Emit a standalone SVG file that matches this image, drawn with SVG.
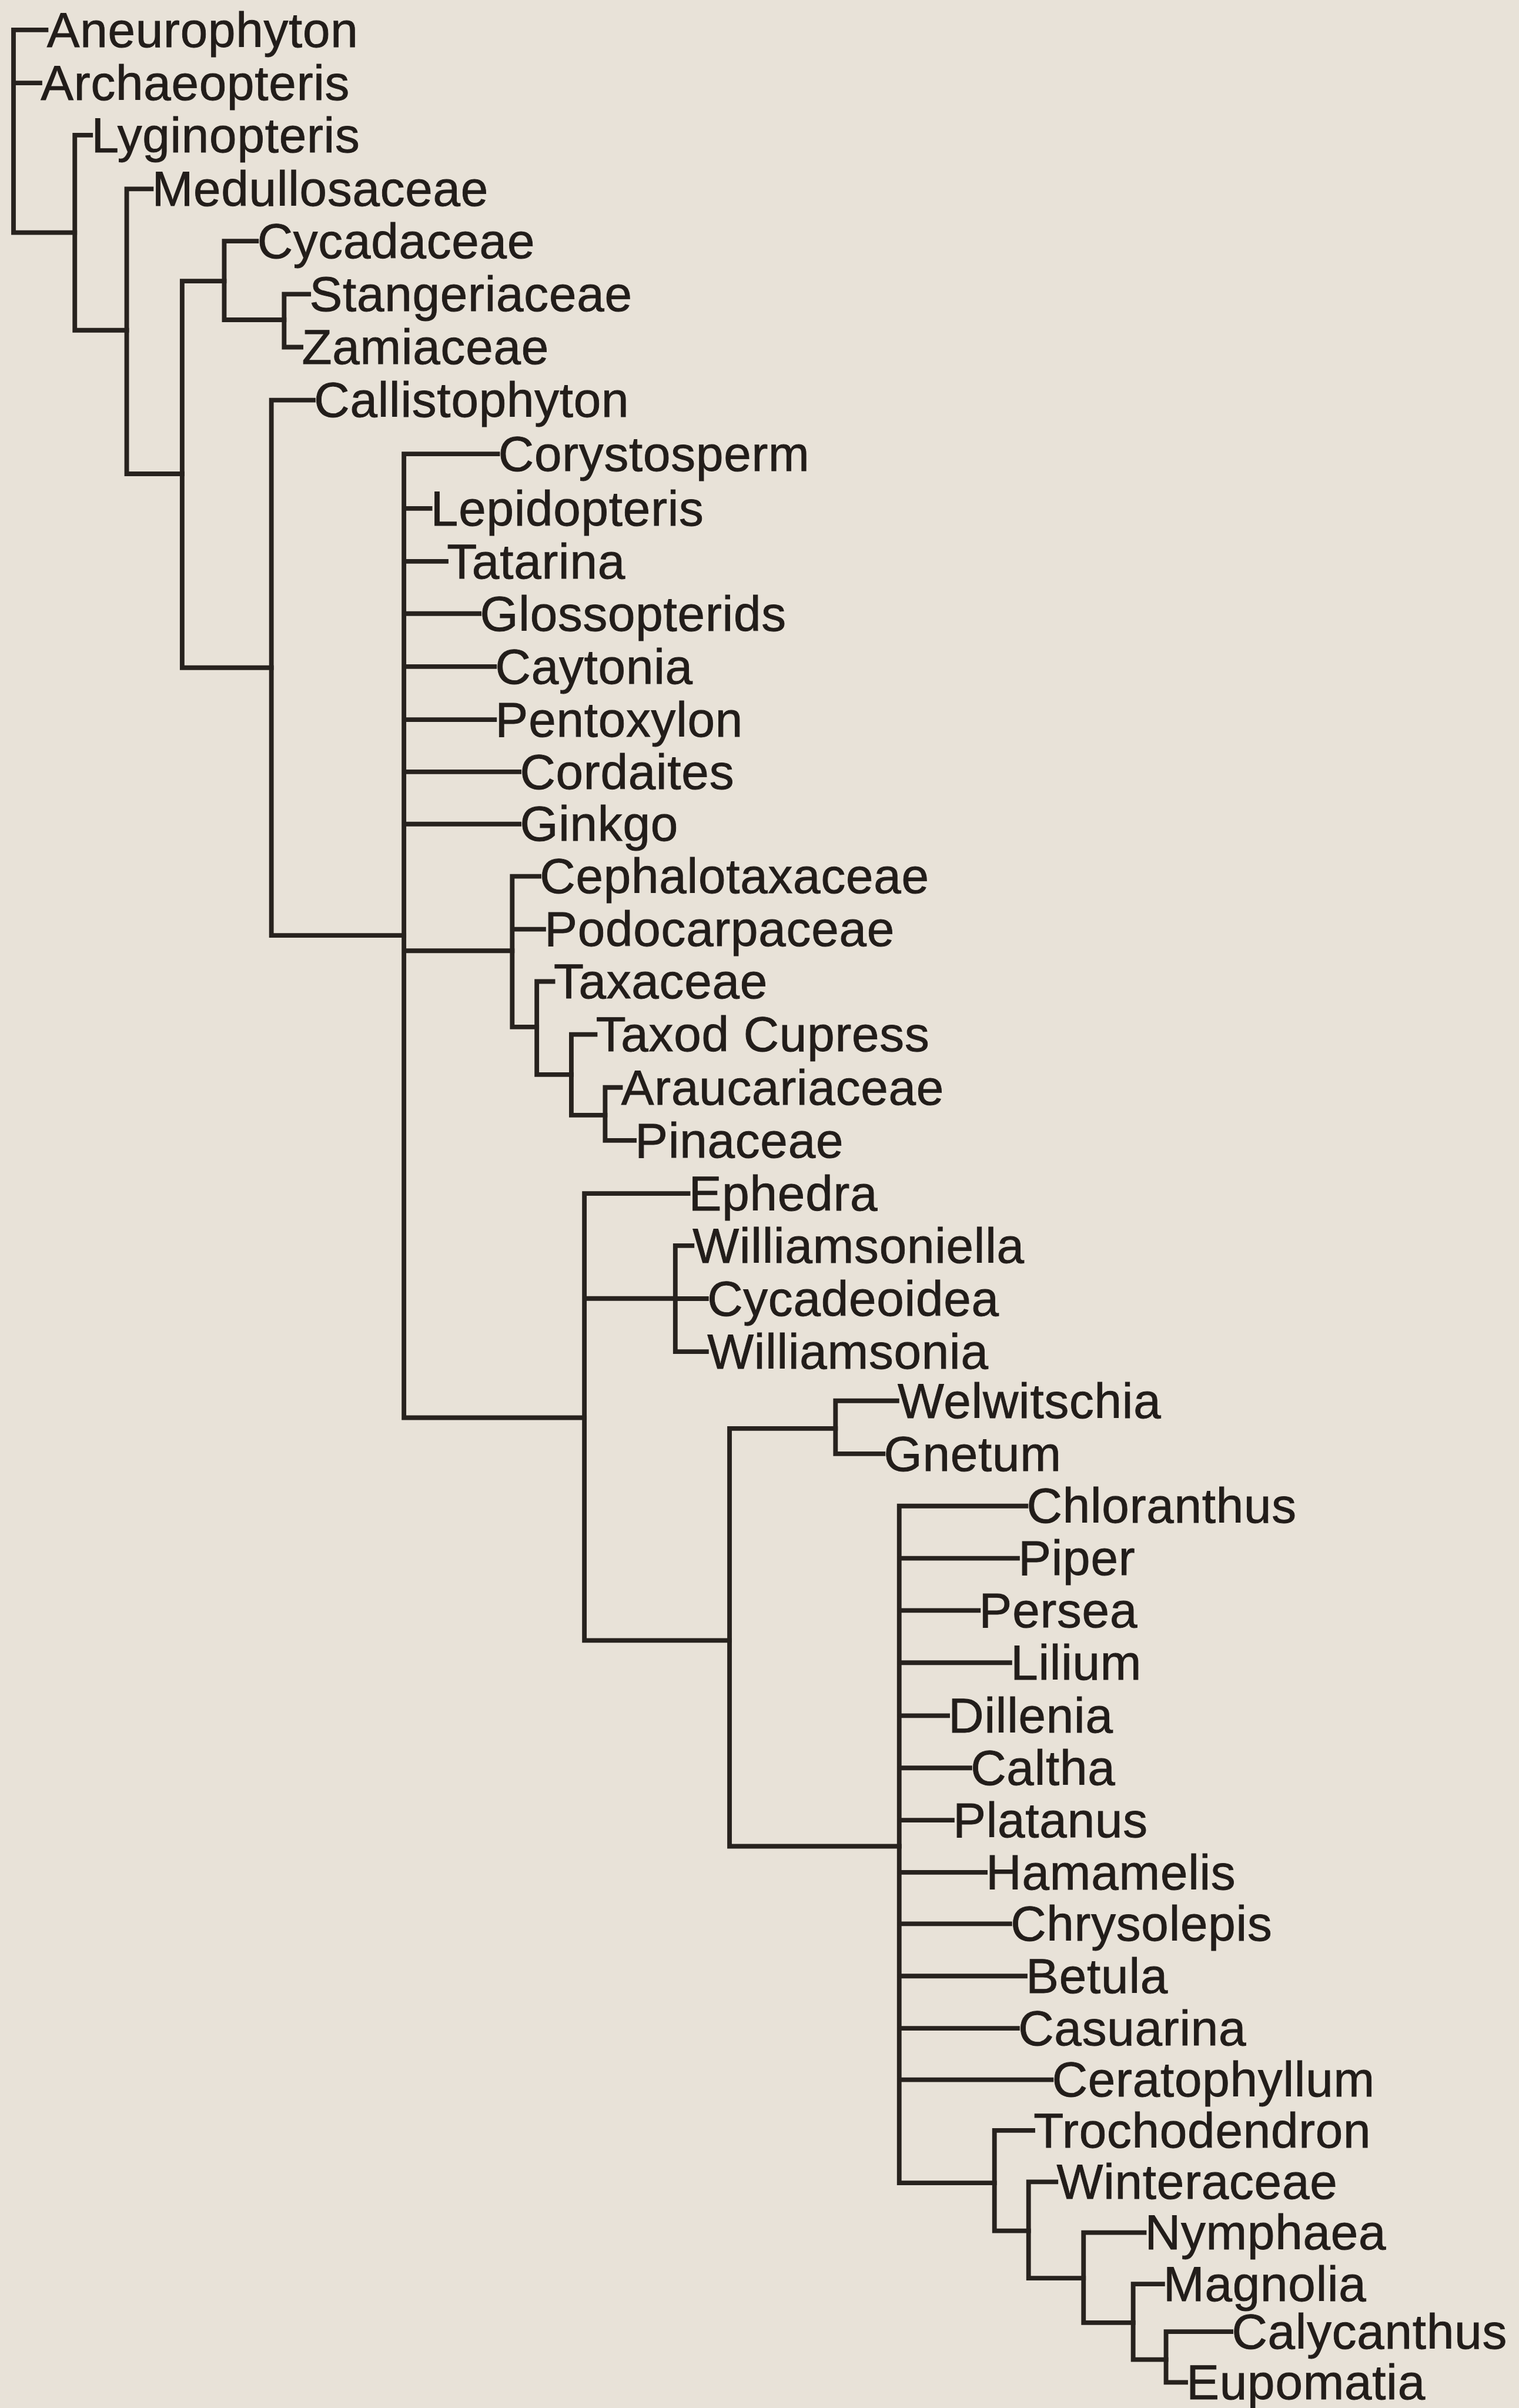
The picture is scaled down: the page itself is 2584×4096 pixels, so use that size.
<svg xmlns="http://www.w3.org/2000/svg" width="2584" height="4096" viewBox="0 0 2584 4096">
<style>
.lbl{font-family:"Liberation Sans",Arial,sans-serif;font-size:32px;letter-spacing:0.3px;fill:#221d1a;stroke:#221d1a;stroke-width:0.35}
.br{stroke:#27221e;stroke-width:3;fill:none;stroke-linecap:square;stroke-linejoin:miter}
</style>
<rect width="2584" height="4096" fill="#e8e2d8"/>
<g transform="scale(2.6127)">
<g id="connectors" class="br">
<path d="M30,19.5 H8.8 V151.4 H48.7 M8.8,54 H26"/>
<path d="M59,88 H48.7 V215 H82.5"/>
<path d="M98.5,123 H82.5 V308.5 H118.6"/>
<path d="M146,183 H118.6 V434.7 H176.7"/>
<path d="M167,157 H146 V208.2 H185"/>
<path d="M201,191.5 H185 V226 H196"/>
<path d="M204,260.5 H176.7 V609 H263"/>
<path d="M324,295.5 H263 V923 H380.5 M263,331 H280 M263,365.5 H290.5 M263,399.5 H312 M263,434 H322 M263,468.5 H322 M263,502.5 H338 M263,536.5 H338 M263,619 H333.5"/>
<path d="M351,570.5 H333.5 V668.6 H349.5 M333.5,605 H354"/>
<path d="M360,639 H349.5 V699.6 H372"/>
<path d="M387.5,673.5 H372 V726 H394"/>
<path d="M404,708 H394 V742.5 H413"/>
<path d="M448,777 H380.5 V1068 H475 M380.5,845.4 H439.7"/>
<path d="M450.6,811 H439.7 V880 H460 M439.7,845.5 H460"/>
<path d="M544,930 H475 V1202 H585.5"/>
<path d="M584,912 H544 V946.5 H575"/>
<path d="M668,980.5 H585.5 V1421.2 H647.5 M585.5,1014.5 H662.5 M585.5,1048.5 H637 M585.5,1082.5 H657.5 M585.5,1117 H617 M585.5,1151 H631.5 M585.5,1185 H620 M585.5,1219 H641.5 M585.5,1252.5 H657.5 M585.5,1286.5 H667.5 M585.5,1320.5 H662.5 M585.5,1354 H684.5"/>
<path d="M672.5,1387 H647.5 V1452.4 H669.7"/>
<path d="M687.5,1420.5 H669.7 V1483.2 H705.5"/>
<path d="M745,1453.5 H705.5 V1512.2 H737.8"/>
<path d="M757,1487 H737.8 V1536.2 H759.2"/>
<path d="M801.5,1518 H759.2 V1551 H772"/>
</g>
<g id="n-aneurophyton"><text class="lbl" x="30.5" y="30.5">Aneurophyton</text></g>
<g id="n-archaeopteris"><text class="lbl" x="26.5" y="65">Archaeopteris</text></g>
<g id="n-lyginopteris"><text class="lbl" x="59.5" y="99">Lyginopteris</text></g>
<g id="n-medullosaceae"><text class="lbl" x="99" y="134">Medullosaceae</text></g>
<g id="n-cycadaceae"><text class="lbl" x="167.5" y="168">Cycadaceae</text></g>
<g id="n-stangeriaceae"><text class="lbl" x="201.5" y="202.5">Stangeriaceae</text></g>
<g id="n-zamiaceae"><text class="lbl" x="196.5" y="237">Zamiaceae</text></g>
<g id="n-callistophyton"><text class="lbl" x="204.5" y="271.5">Callistophyton</text></g>
<g id="n-corystosperm"><text class="lbl" x="324.5" y="306.5">Corystosperm</text></g>
<g id="n-lepidopteris"><text class="lbl" x="280.5" y="342">Lepidopteris</text></g>
<g id="n-tatarina"><text class="lbl" x="291" y="376.5">Tatarina</text></g>
<g id="n-glossopterids"><text class="lbl" x="312.5" y="410.5">Glossopterids</text></g>
<g id="n-caytonia"><text class="lbl" x="322.5" y="445">Caytonia</text></g>
<g id="n-pentoxylon"><text class="lbl" x="322.5" y="479.5">Pentoxylon</text></g>
<g id="n-cordaites"><text class="lbl" x="338.5" y="513.5">Cordaites</text></g>
<g id="n-ginkgo"><text class="lbl" x="338.5" y="547.5">Ginkgo</text></g>
<g id="n-cephalotaxaceae"><text class="lbl" x="351.5" y="581.5">Cephalotaxaceae</text></g>
<g id="n-podocarpaceae"><text class="lbl" x="354.5" y="616">Podocarpaceae</text></g>
<g id="n-taxaceae"><text class="lbl" x="360.5" y="650">Taxaceae</text></g>
<g id="n-taxodcupress"><text class="lbl" x="388" y="684.5">Taxod Cupress</text></g>
<g id="n-araucariaceae"><text class="lbl" x="404.5" y="719">Araucariaceae</text></g>
<g id="n-pinaceae"><text class="lbl" x="413.5" y="753.5">Pinaceae</text></g>
<g id="n-ephedra"><text class="lbl" x="448.5" y="788">Ephedra</text></g>
<g id="n-williamsoniella"><text class="lbl" x="451" y="822">Williamsoniella</text></g>
<g id="n-cycadeoidea"><text class="lbl" x="460.5" y="856.5">Cycadeoidea</text></g>
<g id="n-williamsonia"><text class="lbl" x="460.5" y="891">Williamsonia</text></g>
<g id="n-welwitschia"><text class="lbl" x="584.5" y="923">Welwitschia</text></g>
<g id="n-gnetum"><text class="lbl" x="575.5" y="957.5">Gnetum</text></g>
<g id="n-chloranthus"><text class="lbl" x="668.5" y="991.5">Chloranthus</text></g>
<g id="n-piper"><text class="lbl" x="663" y="1025.5">Piper</text></g>
<g id="n-persea"><text class="lbl" x="637.5" y="1059.5">Persea</text></g>
<g id="n-lilium"><text class="lbl" x="658" y="1093.5">Lilium</text></g>
<g id="n-dillenia"><text class="lbl" x="617.5" y="1128">Dillenia</text></g>
<g id="n-caltha"><text class="lbl" x="632" y="1162">Caltha</text></g>
<g id="n-platanus"><text class="lbl" x="620.5" y="1196">Platanus</text></g>
<g id="n-hamamelis"><text class="lbl" x="642" y="1230">Hamamelis</text></g>
<g id="n-chrysolepis"><text class="lbl" x="658" y="1263.5">Chrysolepis</text></g>
<g id="n-betula"><text class="lbl" x="668" y="1297.5">Betula</text></g>
<g id="n-casuarina"><text class="lbl" x="663" y="1331.5">Casuarina</text></g>
<g id="n-ceratophyllum"><text class="lbl" x="685" y="1365">Ceratophyllum</text></g>
<g id="n-trochodendron"><text class="lbl" x="673" y="1398">Trochodendron</text></g>
<g id="n-winteraceae"><text class="lbl" x="688" y="1431.5">Winteraceae</text></g>
<g id="n-nymphaea"><text class="lbl" x="745.5" y="1464.5">Nymphaea</text></g>
<g id="n-magnolia"><text class="lbl" x="757.5" y="1498">Magnolia</text></g>
<g id="n-calycanthus"><text class="lbl" x="802" y="1529">Calycanthus</text></g>
<g id="n-eupomatia"><text class="lbl" x="772.5" y="1562">Eupomatia</text></g>
</g>
</svg>
